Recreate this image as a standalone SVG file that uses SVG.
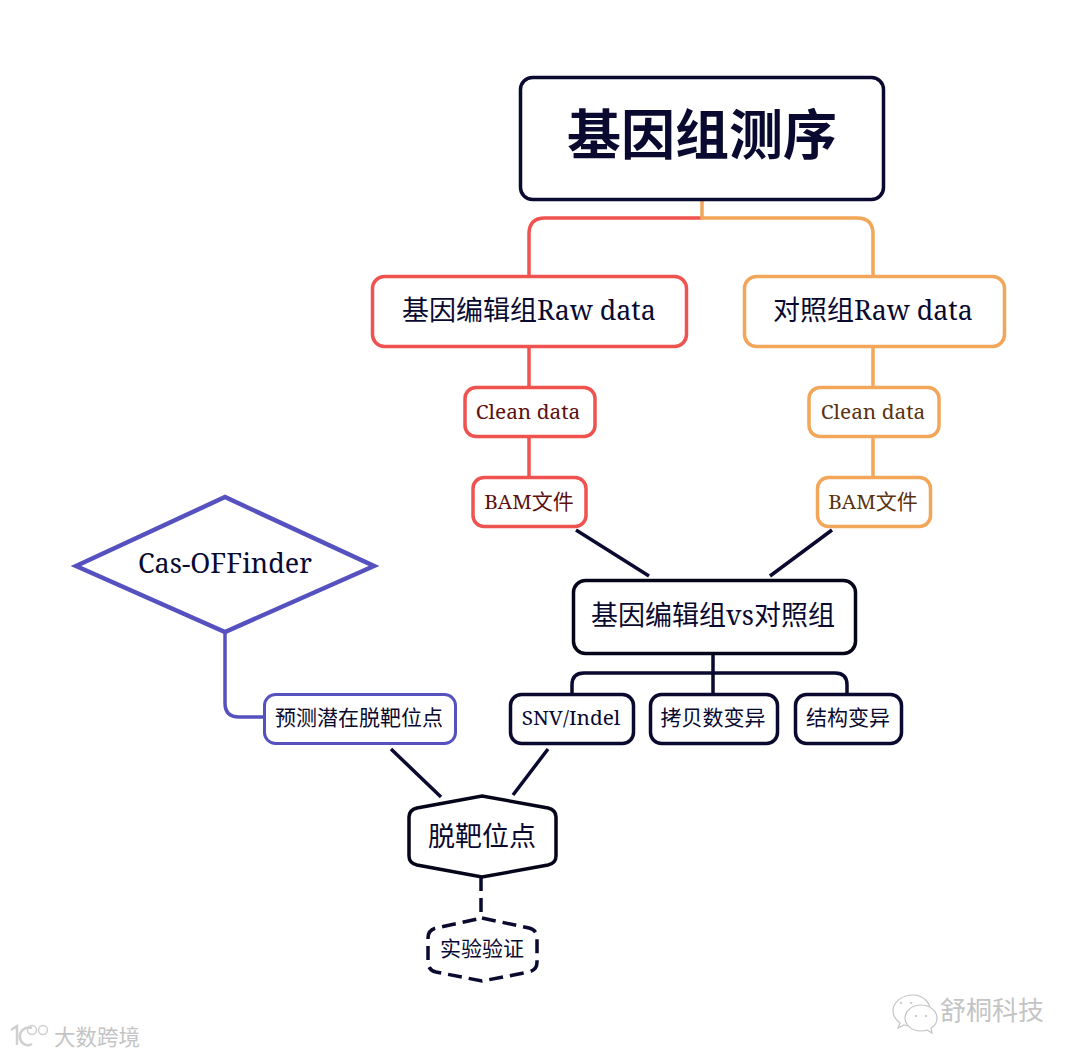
<svg xmlns="http://www.w3.org/2000/svg" width="1080" height="1057" viewBox="0 0 1080 1057">
<style>
text{font-family:"Noto Sans CJK SC","Noto Sans",sans-serif;text-anchor:middle;fill:#0a0a30}
.l{font-family:"Noto Serif","DejaVu Serif","Noto Sans CJK SC",serif}
.n{fill:#fff;stroke:#0a0a30;stroke-width:3.5}
.k{stroke:#05051a}
.r{fill:#fff;stroke:#ef5350;stroke-width:3.5}
.o{fill:#fff;stroke:#f2a65a;stroke-width:3.5}
.p{fill:#fff;stroke:#5552c0;stroke-width:4.500}
.c{fill:none;stroke-width:3.5;stroke-linecap:butt}
.tr{fill:#5c1010}.to{fill:#5a3310}
.wm{fill:#c4c4c4;stroke:#fff;stroke-width:.6;paint-order:stroke}
.ic{fill:#fff;stroke:#c4c4c4;stroke-width:1.2}
</style>
<rect width="1080" height="1057" fill="#fff"/>
<g id="connectors">
<path class="c" stroke="#ef5350" d="M702 218H545Q529 218 529 234V276M529 346V387M529 437V477"/>
<path class="c" stroke="#f2a65a" d="M702 199V218H857Q873 218 873 234V276M873 346V387M873 437V477"/>
<path class="c" stroke="#0a0a30" d="M576 530L649 576M832 530L770 576M713 653V694M572 694V685Q572 673 584 673H835Q847 673 847 685V694M391 749L441 797M548 749L513 795"/>
<path class="c" stroke="#5552c0" d="M225 632V703Q225 717 239 717H264"/>
<path class="c" stroke="#0a0a30" stroke-dasharray="14 7" d="M481 877V918"/>
</g>
<g id="title"><rect class="n" x="520.500" y="77.500" width="363" height="122" rx="12"/><text x="702" y="155" font-size="54" font-weight="700">基因组测序</text></g>
<g id="edit-raw"><rect class="r" x="372.500" y="276.500" width="314" height="70" rx="12"/><text x="529" y="320" font-size="27">基因编辑组<tspan class="l" font-size="26.800">Raw data</tspan></text></g>
<g id="ctrl-raw"><rect class="o" x="744.500" y="276.500" width="260" height="70" rx="12"/><text x="873" y="320" font-size="27">对照组<tspan class="l" font-size="26.800">Raw data</tspan></text></g>
<g id="edit-clean"><rect class="r" x="465" y="387.500" width="130" height="49" rx="11"/><text class="l tr" x="528" y="419" font-size="20.800">Clean data</text></g>
<g id="ctrl-clean"><rect class="o" x="809" y="387.500" width="130" height="49" rx="11"/><text class="l to" x="873" y="419" font-size="20.800">Clean data</text></g>
<g id="edit-bam"><rect class="r" x="473" y="477.500" width="113" height="49" rx="11"/><text class="tr" x="529" y="509" font-size="21"><tspan class="l" font-size="20.800">BAM</tspan>文件</text></g>
<g id="ctrl-bam"><rect class="o" x="817.500" y="477.500" width="113" height="49" rx="11"/><text class="to" x="873" y="509" font-size="21"><tspan class="l" font-size="20.800">BAM</tspan>文件</text></g>
<g id="compare"><rect class="n k" x="573.500" y="580.500" width="282" height="73" rx="12"/><text x="713" y="625" font-size="27">基因编辑组<tspan class="l" font-size="27">vs</tspan>对照组</text></g>
<g id="snv"><rect class="n" x="510.500" y="694.500" width="123" height="49" rx="11"/><text class="l" x="571" y="725" font-size="20.800">SNV/Indel</text></g>
<g id="cnv"><rect class="n" x="650.500" y="694.500" width="127" height="49" rx="11"/><text x="713" y="725" font-size="21">拷贝数变异</text></g>
<g id="sv"><rect class="n" x="795.500" y="694.500" width="106" height="49" rx="11"/><text x="848" y="725" font-size="21">结构变异</text></g>
<g id="casoff"><polygon class="p" points="76,566 225,497 374,566 225,632"/><text class="l" x="225" y="573" font-size="27">Cas-OFFinder</text></g>
<g id="predict"><rect class="p" style="stroke-width:3" x="264.500" y="694.500" width="191" height="49" rx="11"/><text x="359" y="725" font-size="21">预测潜在脱靶位点</text></g>
<g id="offtarget"><path class="n k" d="M482 796L548 808Q556 810 556 817V856Q556 863 548 865L482 877L417 865Q409 863 409 856V817Q409 810 417 808Z"/><text x="482" y="846" font-size="27">脱靶位点</text></g>
<g id="validate"><path class="n" stroke-dasharray="14 7" d="M482 918L529 928Q537 930 537 938V962Q537 970 529 972L482 981L436 972Q428 970 428 962V938Q428 930 436 928Z"/><text x="482" y="956" font-size="21">实验验证</text></g>
<g id="wm-right"><path class="ic" d="M913 995c-11 0-20 7-20 16 0 5 3 9 7 12l-2 5 6-3c3 1 6 1 9 1 8 0 15-4 17-12 2-10-6-19-17-19z"/><path class="ic" d="M921 1005c-9 0-16 6-16 13s7 13 16 13c2 0 4 0 6-1l5 3-1-5c4-2 6-6 6-10 0-7-7-13-16-13z"/><circle cx="901" cy="1003" r="1" fill="#bbb"/><circle cx="911" cy="1003" r="1" fill="#bbb"/><circle cx="916" cy="1016" r="1" fill="#bbb"/><circle cx="926" cy="1016" r="1" fill="#bbb"/><text class="wm" x="992" y="1020" font-size="26">舒桐科技</text></g>
<g id="wm-left"><path fill="none" stroke="#d0d0d0" stroke-width="2.500" d="M11 1030l6-4v19M32 1028c-8-2-13 4-12 10 1 6 7 9 12 6"/><circle cx="32" cy="1030" r="4.500" fill="none" stroke="#d0d0d0" stroke-width="1.500"/><circle cx="43" cy="1030" r="4.500" fill="none" stroke="#d0d0d0" stroke-width="1.500"/><text class="wm" x="97" y="1045" font-size="21.500">大数跨境</text></g>
</svg>
